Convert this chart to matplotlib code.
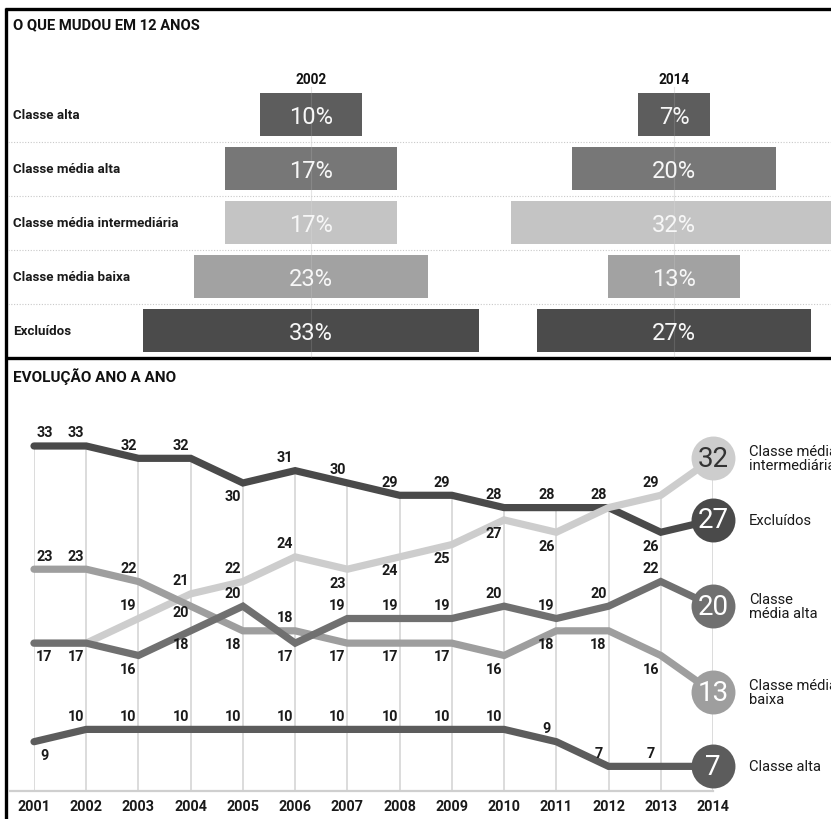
import matplotlib
matplotlib.use('Agg')
import matplotlib.pyplot as plt
import numpy as np

plt.rcParams['font.family'] = ['Roboto', 'DejaVu Sans']

# ---------------- data ----------------
classes = ['Classe alta', 'Classe média alta', 'Classe média intermediária',
           'Classe média baixa', 'Excluídos']
share_2002 = [10, 17, 17, 23, 33]
share_2014 = [7, 20, 32, 13, 27]
col_years = ['2002', '2014']

years = list(range(2001, 2015))
excluidos     = [33, 33, 32, 32, 30, 31, 30, 29, 29, 28, 28, 28, 26, 27]
intermediaria = [17, 17, 19, 21, 22, 24, 23, 24, 25, 27, 26, 28, 29, 32]
media_baixa   = [23, 23, 22, 20, 18, 18, 17, 17, 17, 16, 18, 18, 16, 13]
media_alta    = [17, 17, 16, 18, 20, 17, 19, 19, 19, 20, 19, 20, 22, 20]
alta          = [9, 10, 10, 10, 10, 10, 10, 10, 10, 10, 9, 7, 7, 7]
end_labels = ['Excluídos', 'Classe média\nintermediária', 'Classe média\nbaixa',
              'Classe\nmédia alta', 'Classe alta']

# ---------------- styles ----------------
bar_colors = ['#5d5d5d', '#777777', '#c4c4c4', '#a2a2a2', '#4b4b4b']
line_colors = ['#4a4a4a', '#cdcdcd', '#9e9e9e', '#707070', '#5c5c5c']
circle_text = ['white', '#333333', 'white', 'white', 'white']
# label placement per point: a=above, b=below, c=near (slightly below), n=none
placements = [
    'aaaabaaaaaaabn',
    'nnaaaabbbbbnan',
    'aaacbabbbbbbbn',
    'bbbbabaaaaaaan',
    'baaaaaaaaaaaan',
]

W, H = 831, 820
fig = plt.figure(figsize=(W / 100, H / 100), dpi=100)
bg = fig.add_axes([0, 0, 1, 1])
bg.set_xlim(0, W)
bg.set_ylim(H, 0)
bg.axis('off')


def px_axes(x0, y0, x1, y1):
    return fig.add_axes([x0 / W, 1 - y1 / H, (x1 - x0) / W, (y1 - y0) / H])


# frame
bg.plot([6, 6], [8.5, H], color='black', lw=2.4, solid_capstyle='butt')
bg.plot([5, W], [9.5, 9.5], color='black', lw=2.4, solid_capstyle='butt')
bg.plot([5, W], [358.5, 358.5], color='black', lw=2.4, solid_capstyle='butt')

# ---------------- top panel ----------------
bg.text(13, 25, 'O QUE MUDOU EM 12 ANOS', fontsize=10.6, fontweight='bold',
        va='center', ha='left', color='#111111')
row_y0 = 115.5
row_h = 54
for i, c in enumerate(classes):
    bg.text(13, row_y0 + row_h * i, c, fontsize=9.6, fontweight='bold',
            va='center', ha='left', color='#1a1a1a')
for k in range(4):
    y = row_y0 + row_h * k + row_h / 2
    bg.plot([8, W], [y, y], color='#c9c9c9', lw=0.8, ls=(0, (1, 1.5)))

scale = 10.17  # px per percent
for cx, lab, vals in zip([311, 674], col_years, [share_2002, share_2014]):
    bg.text(cx, 80, lab, fontsize=9.8, fontweight='bold', ha='center',
            va='center', color='#111111')
    bg.plot([cx, cx], [88, 358], color='#e2e2e2', lw=0.8, zorder=0)
    ax = px_axes(cx - 175, 88.5, cx + 175, 358.5)
    ax.set_xlim(-175 / scale, 175 / scale)
    ax.set_ylim(4.5, -0.5)
    ax.axis('off')
    v = np.array(vals)
    ax.barh(range(len(v)), v, left=-v / 2, height=0.8, color=bar_colors)
    ax.axvline(0, color='white', alpha=0.12, lw=0.8)
    for i, val in enumerate(v):
        ax.text(0, i + 0.03, f'{val}%', ha='center', va='center', fontsize=17,
                fontweight='normal', color='#f7f7f7')

# ---------------- bottom panel ----------------
bg.text(13, 377, 'EVOLUÇÃO ANO A ANO', fontsize=11, fontweight='bold',
        va='center', ha='left', color='#111111')

ax2 = px_axes(34, 447, 713, 792)
ax2.set_xlim(2001, 2014)
ax2.set_ylim(5, 33)
ax2.patch.set_visible(False)
for s in ax2.spines.values():
    s.set_visible(False)
ax2.set_yticks([])
ax2.set_xticks(years)
ax2.set_xticklabels([str(y) for y in years], fontsize=10.4, fontweight='bold',
                    color='#1a1a1a')
ax2.tick_params(axis='x', length=0, pad=6)

series = [excluidos, intermediaria, media_baixa, media_alta, alta]
tops = np.max(np.array(series), axis=0)
ax2.vlines(years, 5, tops, color='#d9d9d9', lw=1.3, zorder=0)
ax2.plot([2000.55, 2014], [5, 5], color='#cfcfcf', lw=1.6, clip_on=False,
         zorder=0)

for vals, col in zip(series, line_colors):
    ax2.plot(years, vals, color=col, lw=5.2, solid_capstyle='round',
             solid_joinstyle='miter', clip_on=False, zorder=2)

for vals, col, tc in zip(series, line_colors, circle_text):
    ax2.scatter([years[-1]], [vals[-1]], s=1000, color=col, zorder=5,
                clip_on=False, linewidths=0)
    ax2.text(years[-1], vals[-1], str(vals[-1]), ha='center', va='center',
             fontsize=20, fontweight='normal', color=tc, zorder=6)

for vals, lab in zip(series, end_labels):
    ax2.annotate(lab, (years[-1], vals[-1]), xytext=(26, 0),
                 textcoords='offset points', ha='left', va='center',
                 fontsize=10.6, linespacing=1.0, color='#1a1a1a',
                 annotation_clip=False)

for vals, pl in zip(series, placements):
    for j, (yr, v, p) in enumerate(zip(years, vals, pl)):
        if p == 'n':
            continue
        dy = {'a': 9.8, 'b': -9.6, 'c': -4.5}[p]
        dx = 7.5 if j == 0 else -7.2
        ax2.annotate(str(v), (yr, v), xytext=(dx, dy), textcoords='offset points',
                     ha='center', va='center', fontsize=10.4, fontweight='bold',
                     color='#1a1a1a', annotation_clip=False, zorder=7)

fig.savefig('out.png', dpi=100)
